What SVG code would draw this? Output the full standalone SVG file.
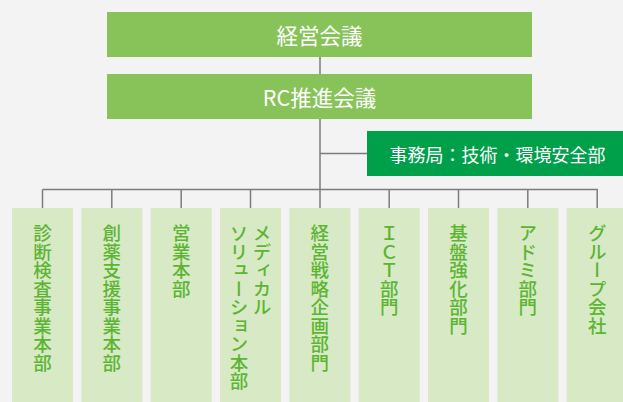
<svg xmlns="http://www.w3.org/2000/svg" width="623" height="402" viewBox="0 0 623 402">
<style>
.bg{fill:#f3f3f3}
.top{fill:#88c35a}
.sec{fill:#00a04b}
.dept{fill:#d8eac5}
.tw{fill:#ffffff;font-family:"Noto Sans CJK JP","Noto Sans CJK SC",sans-serif;font-weight:400;text-anchor:middle}
.tv{fill:#5cb532;font-family:"Noto Sans CJK JP","Noto Sans CJK SC",sans-serif;font-weight:500;font-size:18.5px;writing-mode:vertical-rl;text-orientation:mixed}
.ln{stroke:#7c7c7c;stroke-width:1.5;fill:none}
</style>
<rect class="bg" x="0" y="0" width="623" height="402"/>
<g id="connectors">
<path class="ln" d="M320 57V74M320 119V189.5M320 153.5H367M42.5 189.5H598M42.5 189.5V208M111.8 189.5V208M181.2 189.5V208M250.5 189.5V208M389.2 189.5V208M458.5 189.5V208M527.8 189.5V208M597.2 189.5V208M320 189.5V208"/>
</g>
<g id="n-keiei">
<rect class="top" x="107" y="12" width="425" height="45"/>
<text class="tw" x="319.5" y="44" font-size="21.5">経営会議</text>
</g>
<g id="n-rc">
<rect class="top" x="107" y="74" width="425" height="45"/>
<text class="tw" x="319.5" y="106" font-size="21.5">RC推進会議</text>
</g>
<g id="n-jimukyoku">
<rect class="sec" x="367" y="131" width="256" height="45"/>
<text class="tw" x="497.5" y="162" font-size="18">事務局：技術・環境安全部</text>
</g>
<g id="d1">
<rect class="dept" x="12" y="208" width="61" height="200"/>
<text class="tv" x="42.5" y="224">診断検査事業本部</text>
</g>
<g id="d2">
<rect class="dept" x="81.3" y="208" width="61" height="200"/>
<text class="tv" x="111.8" y="224">創薬支援事業本部</text>
</g>
<g id="d3">
<rect class="dept" x="150.7" y="208" width="61" height="200"/>
<text class="tv" x="181.2" y="224">営業本部</text>
</g>
<g id="d4">
<rect class="dept" x="220" y="208" width="61" height="200"/>
<text class="tv" x="262" y="224">メディカル</text>
<text class="tv" x="239" y="224">ソリューション本部</text>
</g>
<g id="d5">
<rect class="dept" x="289.3" y="208" width="61" height="200"/>
<text class="tv" x="319.8" y="224">経営戦略企画部門</text>
</g>
<g id="d6">
<rect class="dept" x="358.7" y="208" width="61" height="200"/>
<text class="tv" x="389.2" y="224">ＩＣＴ部門</text>
</g>
<g id="d7">
<rect class="dept" x="428" y="208" width="61" height="200"/>
<text class="tv" x="458.5" y="224">基盤強化部門</text>
</g>
<g id="d8">
<rect class="dept" x="497.3" y="208" width="61" height="200"/>
<text class="tv" x="527.8" y="224">アドミ部門</text>
</g>
<g id="d9">
<rect class="dept" x="566.7" y="208" width="61" height="200"/>
<text class="tv" x="597.2" y="224">グループ会社</text>
</g>
</svg>
